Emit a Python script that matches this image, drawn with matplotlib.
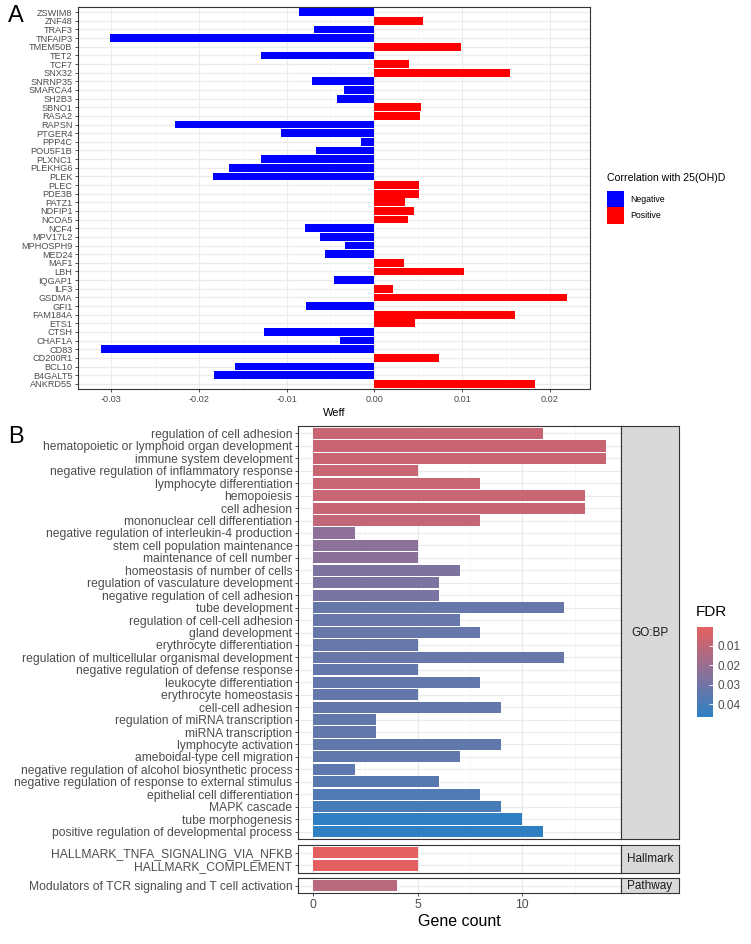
import numpy as np
import matplotlib
matplotlib.use("Agg")
import matplotlib.pyplot as plt
from matplotlib.patches import Patch
from matplotlib.colors import LinearSegmentedColormap, Normalize
from matplotlib.colorbar import ColorbarBase

plt.rcParams['font.family'] = ['Liberation Sans', 'DejaVu Sans']

# ---- panel A data (top to bottom) ----
genes = ['ZSWIM8', 'ZNF48', 'TRAF3', 'TNFAIP3', 'TMEM50B', 'TET2', 'TCF7', 'SNX32',
         'SNRNP35', 'SMARCA4', 'SH2B3', 'SBNO1', 'RASA2', 'RAPSN', 'PTGER4', 'PPP4C',
         'POU5F1B', 'PLXNC1', 'PLEKHG6', 'PLEK', 'PLEC', 'PDE3B', 'PATZ1', 'NDFIP1',
         'NCOA5', 'NCF4', 'MPV17L2', 'MPHOSPH9', 'MED24', 'MAF1', 'LBH', 'IQGAP1',
         'ILF3', 'GSDMA', 'GFI1', 'FAM184A', 'ETS1', 'CTSH', 'CHAF1A', 'CD83',
         'CD200R1', 'BCL10', 'B4GALT5', 'ANKRD55']
weff = [-0.00856, 0.00557, -0.00693, -0.0301, 0.00985, -0.01288, 0.00398, 0.01545,
        -0.00712, -0.00341, -0.00424, 0.0053, 0.00515, -0.02276, -0.01065, -0.00152,
        -0.00663, -0.01295, -0.01655, -0.01841, 0.00503, 0.00503, 0.00345, 0.00451,
        0.00386, -0.00792, -0.00625, -0.00333, -0.00568, 0.00337, 0.01019, -0.00455,
        0.00208, 0.0219, -0.00784, 0.01606, 0.00458, -0.01258, -0.00386, -0.0311,
        0.00735, -0.01587, -0.01826, 0.0183]

# ---- panel B data (top to bottom within each source) ----
gobp_terms = ['regulation of cell adhesion', 'hematopoietic or lymphoid organ development',
              'immune system development', 'negative regulation of inflammatory response',
              'lymphocyte differentiation', 'hemopoiesis', 'cell adhesion',
              'mononuclear cell differentiation', 'negative regulation of interleukin-4 production',
              'stem cell population maintenance', 'maintenance of cell number',
              'homeostasis of number of cells', 'regulation of vasculature development',
              'negative regulation of cell adhesion', 'tube development',
              'regulation of cell-cell adhesion', 'gland development', 'erythrocyte differentiation',
              'regulation of multicellular organismal development',
              'negative regulation of defense response', 'leukocyte differentiation',
              'erythrocyte homeostasis', 'cell-cell adhesion', 'regulation of miRNA transcription',
              'miRNA transcription', 'lymphocyte activation', 'ameboidal-type cell migration',
              'negative regulation of alcohol biosynthetic process',
              'negative regulation of response to external stimulus',
              'epithelial cell differentiation', 'MAPK cascade', 'tube morphogenesis',
              'positive regulation of developmental process']
gobp_count = [11, 14, 14, 5, 8, 13, 13, 8, 2, 5, 5, 7, 6, 6, 12, 7, 8, 5, 12, 5, 8, 5, 9,
              3, 3, 9, 7, 2, 6, 8, 9, 10, 11]
gobp_fdr = [0.0075, 0.0075, 0.0075, 0.008, 0.008, 0.008, 0.0082, 0.0095, 0.023, 0.0235,
            0.024, 0.027, 0.0275, 0.028, 0.032, 0.032, 0.0322, 0.0325, 0.0325, 0.033,
            0.033, 0.033, 0.0332, 0.0335, 0.0335, 0.034, 0.034, 0.035, 0.036, 0.038,
            0.040, 0.046, 0.046]

hall_terms = ['HALLMARK_TNFA_SIGNALING_VIA_NFKB', 'HALLMARK_COMPLEMENT']
hall_count = [5, 5]
hall_fdr = [0.0005, 0.0005]

path_terms = ['Modulators of TCR signaling and T cell activation']
path_count = [4]
path_fdr = [0.012]

W, H = 751, 944
fig = plt.figure(figsize=(W / 100, H / 100), dpi=100)


def fx(px):
    return px / W


def fy(py):
    return 1 - py / H


# ================= Panel A =================
axA = fig.add_axes([fx(78), fy(389), fx(590 - 78), fy(7) - fy(389)])
yA = np.arange(len(genes))
colsA = ['#0000FF' if v < 0 else '#FF0000' for v in weff]
axA.barh(yA, weff, height=0.9, color=colsA, zorder=3)
axA.set_ylim(len(genes) - 0.4, -0.6)
axA.set_xlim(-0.03375, 0.02455)
axA.set_yticks(yA)
axA.set_yticklabels(genes, fontsize=6.6, color='#4D4D4D')
axA.set_xticks([-0.03, -0.02, -0.01, 0.0, 0.01, 0.02])
axA.set_xticklabels(['-0.03', '-0.02', '-0.01', '0.00', '0.01', '0.02'], fontsize=6.6, color='#4D4D4D')
axA.set_xticks([-0.025, -0.015, -0.005, 0.005, 0.015], minor=True)
axA.grid(True, which='major', color='#EBEBEB', lw=0.9, zorder=0)
axA.grid(True, which='minor', axis='x', color='#F4F4F4', lw=0.5, zorder=0)
axA.tick_params(axis='both', which='major', length=2.5, width=0.6, color='#333333', pad=1.5)
axA.tick_params(axis='x', which='minor', length=0)
for s in axA.spines.values():
    s.set_color('#333333')
    s.set_linewidth(0.8)
axA.set_xlabel('Weff', fontsize=8, labelpad=3)

handles = [Patch(facecolor='#0000FF', label='Negative'),
           Patch(facecolor='#FF0000', label='Positive')]
leg = fig.legend(handles=handles, loc='upper left', bbox_to_anchor=(fx(604), fy(170)),
                 title='Correlation with 25(OH)D', fontsize=6.3, title_fontsize=7.6,
                 frameon=False, handlelength=2.0, handleheight=2.5, handletextpad=0.7,
                 labelspacing=0.0, borderaxespad=0, borderpad=0.3)
leg._legend_box.align = 'left'
leg._legend_box.sep = 6

fig.text(fx(8), fy(16), 'A', fontsize=17, va='center', ha='left')
fig.text(fx(8), fy(437), 'B', fontsize=17, va='center', ha='left')

# ================= Panel B =================
cmap = LinearSegmentedColormap.from_list('fdr', ['#E56060', '#8C7199', '#2C80C3'])
norm = Normalize(vmin=0.0002, vmax=0.0467)

facets = [
    (gobp_terms, gobp_count, gobp_fdr, 'GO:BP', 426, 839),
    (hall_terms, hall_count, hall_fdr, 'Hallmark', 845.3, 872.7),
    (path_terms, path_count, path_fdr, 'Pathway', 878.3, 892.7),
]
for i, (terms, counts, fdrs, name, top, bot) in enumerate(facets):
    ax = fig.add_axes([fx(298), fy(bot), fx(621 - 298), fy(top) - fy(bot)])
    y = np.arange(len(terms))
    ax.barh(y, counts, height=0.9, color=cmap(norm(np.array(fdrs))), zorder=3)
    ax.set_ylim(len(terms) - 0.4, -0.6)
    ax.set_xlim(-0.7, 14.7)
    ax.set_yticks(y)
    ax.set_yticklabels(terms, fontsize=8.75, color='#4D4D4D')
    ax.set_xticks([0, 5, 10])
    ax.set_xticks([2.5, 7.5, 12.5], minor=True)
    ax.grid(True, which='major', color='#EBEBEB', lw=0.9, zorder=0)
    ax.grid(True, which='minor', axis='x', color='#F4F4F4', lw=0.5, zorder=0)
    ax.tick_params(axis='y', length=2.5, width=0.6, color='#333333', pad=1.5)
    ax.tick_params(axis='x', which='minor', length=0)
    if i < 2:
        ax.tick_params(axis='x', which='major', length=0, labelbottom=False)
    else:
        ax.tick_params(axis='x', which='major', length=2.5, width=0.6, color='#333333',
                       labelsize=8.8, labelcolor='#4D4D4D', pad=2)
        ax.set_xlabel('Gene count', fontsize=11.5, labelpad=2)
    for s in ax.spines.values():
        s.set_color('#333333')
        s.set_linewidth(0.8)

    sax = fig.add_axes([fx(621), fy(bot), fx(679 - 621), fy(top) - fy(bot)])
    sax.set_facecolor('#D9D9D9')
    sax.set_xticks([])
    sax.set_yticks([])
    for s in sax.spines.values():
        s.set_color('#333333')
        s.set_linewidth(0.8)
    sax.text(0.5, 0.5, name, fontsize=8.5, color='#1A1A1A', ha='center', va='center',
             transform=sax.transAxes)

# colour bar
cax = fig.add_axes([fx(697), fy(717), fx(713 - 697), fy(627) - fy(717)])
cb = ColorbarBase(cax, cmap=cmap, norm=norm, orientation='vertical')
cax.invert_yaxis()
cb.set_ticks([0.01, 0.02, 0.03, 0.04])
cb.set_ticklabels(['0.01', '0.02', '0.03', '0.04'])
cb.outline.set_visible(False)
cax.tick_params(length=3, width=0.6, color='white', direction='in', labelsize=8.5,
                labelcolor='#4D4D4D', pad=3)
fig.text(fx(696), fy(612), 'FDR', fontsize=11, ha='left', va='center')

fig.savefig('out.png', dpi=100)
